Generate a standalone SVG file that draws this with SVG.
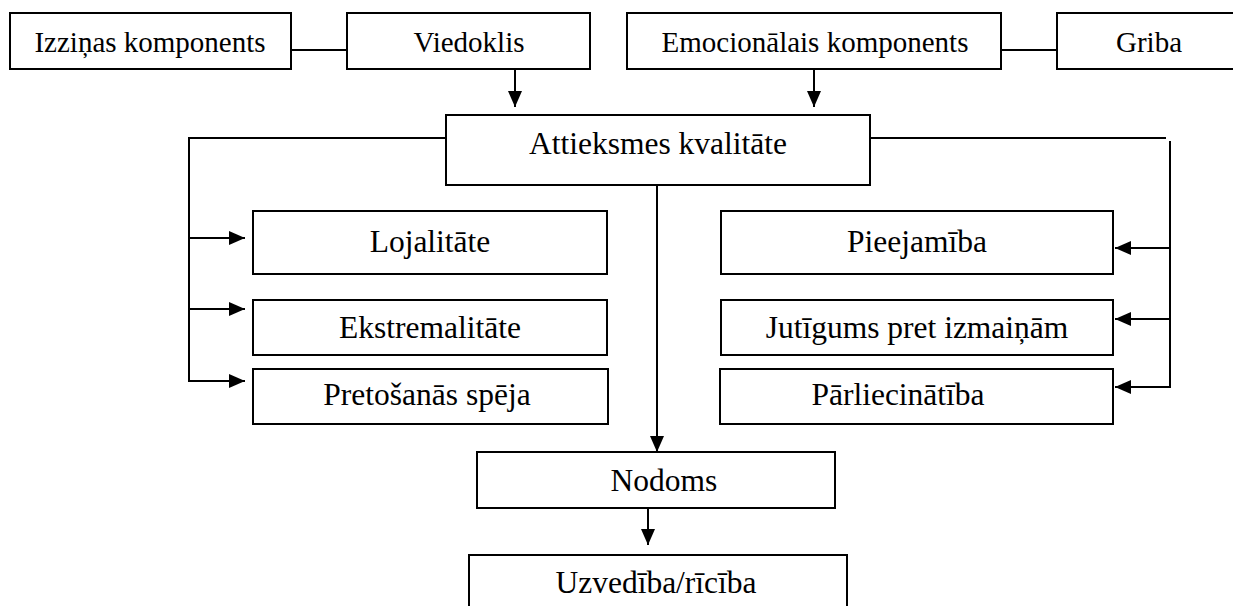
<svg xmlns="http://www.w3.org/2000/svg" width="1233" height="606" viewBox="0 0 1233 606">
  <style>
    .box { fill: #fff; stroke: #000; stroke-width: 2; }
    .lbl { font-family: "Liberation Serif", "Times New Roman", serif; font-size: 31.5px; fill: #000; text-anchor: middle; }
    .top { font-size: 29px; }
    .wire { fill: none; stroke: #000; stroke-width: 2; }
  </style>
  <defs>
    <marker id="arrow" viewBox="0 0 16 14" refX="16" refY="7" markerWidth="16" markerHeight="14" markerUnits="userSpaceOnUse" orient="auto">
      <path d="M0,0 L16,7 L0,14 Z" fill="#000"/>
    </marker>
  </defs>
  <rect width="1233" height="606" fill="#fff"/>

  <g id="connectors">
    <line class="wire" x1="291" y1="50" x2="347" y2="50"/>
    <line class="wire" x1="1001" y1="50" x2="1057" y2="50"/>
    <line class="wire" x1="515" y1="69" x2="515" y2="107" marker-end="url(#arrow)"/>
    <line class="wire" x1="814" y1="69" x2="814" y2="107" marker-end="url(#arrow)"/>
    <!-- left bracket -->
    <polyline class="wire" points="451,138 189,138 189,382"/>
    <line class="wire" x1="189" y1="238" x2="245" y2="238" marker-end="url(#arrow)"/>
    <line class="wire" x1="189" y1="309" x2="245" y2="309" marker-end="url(#arrow)"/>
    <line class="wire" x1="188" y1="381" x2="245" y2="381" marker-end="url(#arrow)"/>
    <!-- right bracket -->
    <line class="wire" x1="866" y1="138" x2="1166" y2="138"/>
    <line class="wire" x1="1170" y1="141" x2="1170" y2="388"/>
    <line class="wire" x1="1170" y1="248" x2="1115" y2="248" marker-end="url(#arrow)"/>
    <line class="wire" x1="1170" y1="319" x2="1115" y2="319" marker-end="url(#arrow)"/>
    <line class="wire" x1="1171" y1="387" x2="1115" y2="387" marker-end="url(#arrow)"/>
    <!-- centre -->
    <line class="wire" x1="657" y1="185" x2="657" y2="452" marker-end="url(#arrow)"/>
    <line class="wire" x1="648" y1="508" x2="648" y2="545" marker-end="url(#arrow)"/>
  </g>

  <g id="izzinas">
    <rect class="box" x="10" y="13" width="281" height="56"/>
    <text class="lbl top" x="150" y="52">Izziņas komponents</text>
  </g>
  <g id="viedoklis">
    <rect class="box" x="347" y="13" width="243" height="56"/>
    <text class="lbl top" x="469" y="52">Viedoklis</text>
  </g>
  <g id="emocionalais">
    <rect class="box" x="627" y="13" width="374" height="56"/>
    <text class="lbl top" x="815" y="52">Emocionālais komponents</text>
  </g>
  <g id="griba">
    <rect class="box" x="1057" y="13" width="190" height="56"/>
    <text class="lbl top" x="1149" y="52">Griba</text>
  </g>
  <g id="attieksmes">
    <rect class="box" x="446" y="115" width="424" height="70"/>
    <text class="lbl" x="658" y="154">Attieksmes kvalitāte</text>
  </g>
  <g id="lojalitate">
    <rect class="box" x="253" y="211" width="354" height="63"/>
    <text class="lbl" x="430" y="252">Lojalitāte</text>
  </g>
  <g id="ekstremalitate">
    <rect class="box" x="253" y="300" width="354" height="55"/>
    <text class="lbl" x="430" y="338">Ekstremalitāte</text>
  </g>
  <g id="pretosanas">
    <rect class="box" x="253" y="369" width="355" height="55"/>
    <text class="lbl" x="427" y="405">Pretošanās spēja</text>
  </g>
  <g id="pieejamiba">
    <rect class="box" x="721" y="211" width="392" height="63"/>
    <text class="lbl" x="917" y="252">Pieejamība</text>
  </g>
  <g id="jutigums">
    <rect class="box" x="721" y="300" width="392" height="55"/>
    <text class="lbl" x="917" y="338">Jutīgums pret izmaiņām</text>
  </g>
  <g id="parliecinatiba">
    <rect class="box" x="720" y="369" width="393" height="55"/>
    <text class="lbl" x="898" y="405">Pārliecinātība</text>
  </g>
  <g id="nodoms">
    <rect class="box" x="477" y="452" width="358" height="56"/>
    <text class="lbl" x="664" y="491">Nodoms</text>
  </g>
  <g id="uzvediba">
    <rect class="box" x="469" y="555" width="378" height="60"/>
    <text class="lbl" x="656" y="593">Uzvedība/rīcība</text>
  </g>
</svg>
